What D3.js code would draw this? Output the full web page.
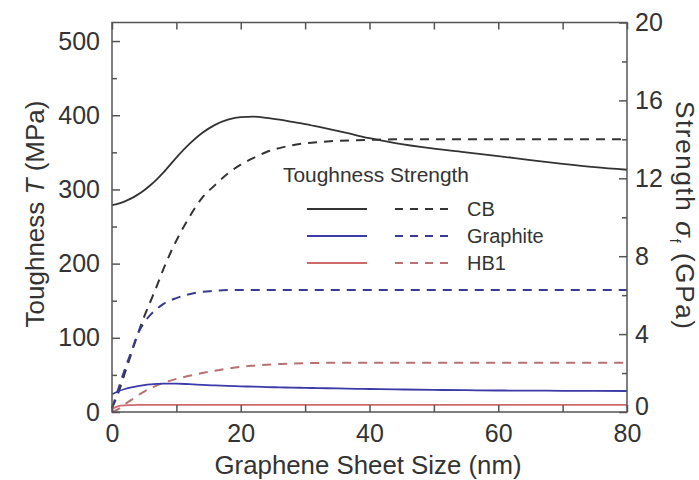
<!DOCTYPE html>
<html>
<head>
<meta charset="utf-8">
<script src="https://cdn.jsdelivr.net/npm/d3@7"></script>
<style>
  html, body { margin: 0; padding: 0; background: #fff; }
  svg { display: block; font-family: "Liberation Sans", Arial, sans-serif; }
</style>
</head>
<body>
<svg id="chart" width="699" height="480"></svg>
<script>
// ---------- data ----------
const sizes = [0,1,2,3,4,5,6,7,8,10,12,14,16,18,20,22,24,26,28,30,32,35,38,40,44,50,55,60,65,70,75,80];

// Toughness (MPa, left axis)
const toughCB       = [279,281,284,288,293,299,306,314,323,343,361,376,387,394,397.5,398,396.5,394,391,388,384.5,379,373,369,362.5,355,350,345,339.5,334.5,330,326.5];
const toughGraphite = [24,28,31,33.3,35,36.3,37.2,37.8,38.2,38.2,37.5,36.6,35.8,35.1,34.6,34.1,33.6,33.2,32.9,32.5,32.2,31.8,31.3,31,30.5,29.8,29.4,29,28.8,28.6,28.4,28.3];
const toughHB1      = [4,8,9,9.3,9.5,9.5,9.5,9.5,9.5,9.5,9.5,9.5,9.5,9.5,9.5,9.5,9.5,9.5,9.5,9.5,9.5,9.5,9.5,9.5,9.5,9.5,9.5,9.5,9.5,9.5,9.5,9.5];

// Strength (GPa, right axis)
const strCB       = [0.2,1.0,2.0,3.0,4.0,4.9,5.7,6.5,7.35,8.8,10.0,11.0,11.65,12.25,12.7,13.05,13.35,13.55,13.7,13.8,13.86,13.92,13.95,13.97,14,14,14,14,14,14,14,14];
const strGraphite = [0.2,1.2,2.2,3.1,4.0,4.6,5.0,5.3,5.55,5.85,6.05,6.17,6.23,6.26,6.27,6.27,6.27,6.27,6.27,6.27,6.27,6.27,6.27,6.27,6.27,6.27,6.27,6.27,6.27,6.27,6.27,6.27];
const strHB1      = [0,0.15,0.4,0.62,0.85,1.05,1.22,1.37,1.5,1.7,1.86,2.0,2.12,2.23,2.32,2.38,2.43,2.46,2.49,2.51,2.52,2.53,2.53,2.53,2.53,2.53,2.53,2.53,2.53,2.53,2.53,2.53];

const materials = ["CB", "Graphite", "HB1"];
const xTicks = [0,20,40,60,80];
const xMinor = [0,10,20,30,40,50,60,70,80];
const yLeftTicks = [0,100,200,300,400,500];
const yLeftMinor = [50,150,250,350,450];
const yRightTicks = [0,4,8,12,16,20];
const yRightMinor = [2,6,10,14,18];

// ---------- layout ----------
const svg = d3.select("#chart");
const L = 112, R = 627, T = 22.5, B = 412;
const x  = d3.scaleLinear().domain([0,80]).range([L,R]);
const yL = d3.scaleLinear().domain([0,525]).range([B,T]);
const yR = d3.scaleLinear().domain([0,20]).range([B,T]);

const axisColor = "#555";
const textColor = "#333";
const colors = { CB: "#333333", Graphite: "#3a3aa8", HB1: "#cf6a6a" };
const dashColors = { CB: "#333333", Graphite: "#3a3a90", HB1: "#b87070" };
const dash = "9,7";

// ---------- curves ----------
const toughSeries = { CB: toughCB, Graphite: toughGraphite, HB1: toughHB1 };
const strSeries = { CB: strCB, Graphite: strGraphite, HB1: strHB1 };

const lineL = d3.line().x((d,i)=>x(sizes[i])).y(d=>yL(d)).curve(d3.curveMonotoneX);
const lineR = d3.line().x((d,i)=>x(sizes[i])).y(d=>yR(d)).curve(d3.curveMonotoneX);

const g = svg.append("g");
materials.forEach(m => {
  g.append("path").attr("d", lineR(strSeries[m])).attr("fill","none")
    .attr("stroke", dashColors[m]).attr("stroke-width", 2).attr("stroke-dasharray", dash);
});
materials.forEach(m => {
  g.append("path").attr("d", lineL(toughSeries[m])).attr("fill","none")
    .attr("stroke", colors[m]).attr("stroke-width", 1.8);
});

// ---------- axes ----------
const ax = svg.append("g").attr("stroke", axisColor).attr("stroke-width", 1.5);
ax.append("rect").attr("x", L).attr("y", T).attr("width", R-L).attr("height", B-T).attr("fill","none");

const fontTick = 25;
const gBottom = svg.append("g").attr("transform", `translate(0,${B})`)
  .call(d3.axisBottom(x).tickValues(xMinor).tickSizeInner(-7).tickSizeOuter(0).tickFormat(""));
const gTop = svg.append("g").attr("transform", `translate(0,${T})`)
  .call(d3.axisTop(x).tickValues(xMinor).tickSizeInner(-7).tickSizeOuter(0).tickFormat(""));
const gBottomLab = svg.append("g").attr("transform", `translate(0,${B})`)
  .call(d3.axisBottom(x).tickValues(xTicks).tickSize(0).tickPadding(12).tickFormat(d3.format("d")));
const gLeft = svg.append("g").attr("transform", `translate(${L},0)`)
  .call(d3.axisLeft(yL).tickValues(yLeftTicks).tickSizeInner(-8).tickSizeOuter(0).tickFormat(d3.format("d")));
const gLeftMinor = svg.append("g").attr("transform", `translate(${L},0)`)
  .call(d3.axisLeft(yL).tickValues(yLeftMinor).tickSizeInner(-5).tickSizeOuter(0).tickFormat(""));
const gRight = svg.append("g").attr("transform", `translate(${R},0)`)
  .call(d3.axisRight(yR).tickValues(yRightTicks).tickSizeInner(-8).tickSizeOuter(0).tickFormat(d3.format("d")));
const gRightMinor = svg.append("g").attr("transform", `translate(${R},0)`)
  .call(d3.axisRight(yR).tickValues(yRightMinor).tickSizeInner(-5).tickSizeOuter(0).tickFormat(""));

[gBottom, gTop, gBottomLab, gLeft, gLeftMinor, gRight, gRightMinor].forEach(s => {
  s.select(".domain").remove();
  s.selectAll("line").attr("stroke", axisColor).attr("stroke-width", 1.5);
  s.selectAll("text").attr("fill", textColor).attr("font-size", fontTick)
    .attr("font-family", "'Liberation Sans', Arial, sans-serif");
});
gLeft.selectAll("text").attr("x", -12);
gRight.selectAll("text").attr("x", 8);
// nudge the right-axis "0" slightly up so it clears the "80" x label
gRight.selectAll(".tick").filter(d => d === 0).select("text").attr("dy", "0.1em");

// ---------- titles ----------
svg.append("text").attr("x", 368).attr("y", 474).attr("text-anchor","middle")
  .attr("font-size", 26).attr("fill", textColor)
  .attr("textLength", 307).attr("lengthAdjust", "spacingAndGlyphs")
  .text("Graphene Sheet Size (nm)");

const lt = svg.append("text").attr("transform", "translate(44,214) rotate(-90)")
  .attr("text-anchor","middle").attr("font-size", 26).attr("fill", textColor);
lt.append("tspan").text("Toughness ");
lt.append("tspan").attr("font-style","italic").text("T");
lt.append("tspan").text(" (MPa)");

const rt = svg.append("text").attr("transform", "translate(676,215) rotate(90)")
  .attr("text-anchor","middle").attr("font-size", 26).attr("fill", textColor)
  .attr("textLength", 228).attr("lengthAdjust", "spacing");
rt.append("tspan").text("Strength ");
rt.append("tspan").attr("font-style","italic").text("σ");
rt.append("tspan").attr("font-size", 14).attr("dy", 6).text("f");
rt.append("tspan").attr("dy", -6).text(" (GPa)");

// ---------- legend ----------
const lg = svg.append("g");
lg.append("text").attr("x", 283).attr("y", 182).attr("font-size", 21).attr("fill", textColor)
  .attr("textLength", 186).attr("lengthAdjust", "spacingAndGlyphs")
  .text("Toughness Strength");
const rowY = [209, 236, 263];
materials.forEach((m, i) => {
  lg.append("line").attr("x1", 307).attr("x2", 367).attr("y1", rowY[i]).attr("y2", rowY[i])
    .attr("stroke", colors[m]).attr("stroke-width", 1.8);
  lg.append("line").attr("x1", 395).attr("x2", 455).attr("y1", rowY[i]).attr("y2", rowY[i])
    .attr("stroke", dashColors[m]).attr("stroke-width", 1.8).attr("stroke-dasharray", "8,7");
  lg.append("text").attr("x", 467).attr("y", rowY[i] + 7).attr("font-size", 20).attr("fill", textColor)
    .text(m);
});
</script>
</body>
</html>
